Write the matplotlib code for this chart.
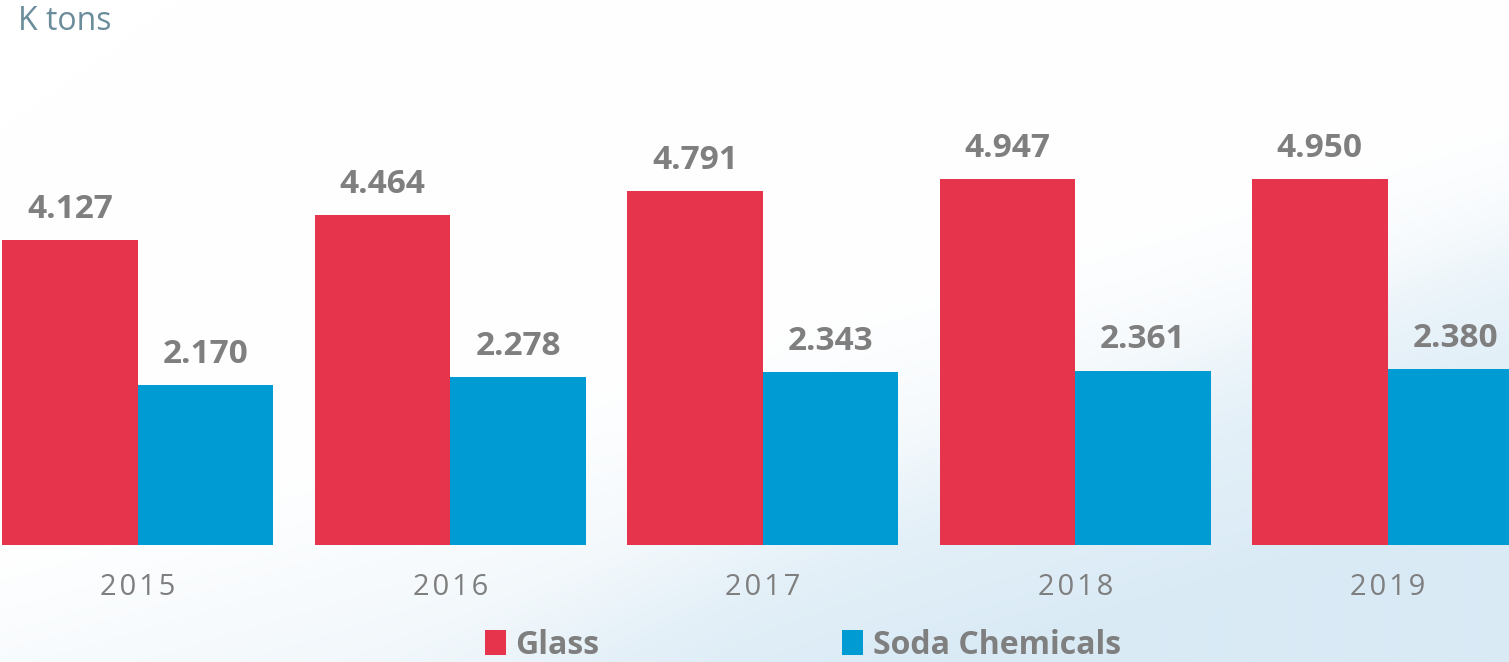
import numpy as np
import matplotlib
matplotlib.use("Agg")
import matplotlib.pyplot as plt
from matplotlib.patches import Patch

years = ["2015", "2016", "2017", "2018", "2019"]
glass = [4.127, 4.464, 4.791, 4.947, 4.950]
soda = [2.170, 2.278, 2.343, 2.361, 2.380]
glass_labels = ["4.127", "4.464", "4.791", "4.947", "4.950"]
soda_labels = ["2.170", "2.278", "2.343", "2.361", "2.380"]
series_names = ["Glass", "Soda Chemicals"]
unit_label = "K tons"

RED = "#E6344C"
BLUE = "#009BD2"
GRAY = "#7F7F7F"
FONT = ["Open Sans", "DejaVu Sans"]

W, H = 1509, 662
fig = plt.figure(figsize=(W / 100, H / 100), dpi=100)

# soft background gradient
bg = fig.add_axes([0, 0, 1, 1])
yy, xx = np.mgrid[0:1:331j, 0:1:755j]
t = np.clip((xx * 0.8 + yy * 1.2 - 1.0) / 0.8, 0, 1)
edge = 1.0 - 0.9 * (xx - 0.3)
curve = 1 / (1 + np.exp(-(yy - edge) / 0.04)) * (1 / (1 + np.exp(-(xx - 0.35) / 0.05)))
t = np.clip(t * 0.7 + 0.35 * curve, 0, 1)
c0 = np.array([1.0, 1.0, 1.0])
c1 = np.array([0xD9, 0xEA, 0xF5]) / 255
img = c0[None, None, :] * (1 - t[..., None]) + c1[None, None, :] * t[..., None]
bg.imshow(img, extent=[0, 1, 0, 1], aspect="auto", origin="upper")
bg.set_axis_off()

ax = fig.add_axes([0, 117 / H, 1, 545 / H])
ax.patch.set_alpha(0)
x = np.arange(len(years))
bw = 0.4337
ax.bar(x - bw / 2, glass, width=bw, color=RED, linewidth=0)
ax.bar(x + bw / 2, soda, width=bw, color=BLUE, linewidth=0)
ax.set_xlim(-0.4417, 4.3886)
ax.set_ylim(0, 545 / 73.9)

for xi, v, s in zip(x, glass, glass_labels):
    ax.annotate(s, (xi - bw / 2, v), xytext=(0, 22), textcoords="offset points",
                ha="center", va="center", fontsize=24, fontweight="bold",
                color=GRAY, family=FONT)
for xi, v, s in zip(x, soda, soda_labels):
    ax.annotate(s, (xi + bw / 2, v), xytext=(0, 22), textcoords="offset points",
                ha="center", va="center", fontsize=24, fontweight="bold",
                color=GRAY, family=FONT)

ax.set_xticks(x)
ax.set_xticklabels(["\u200a".join(y) for y in years], fontsize=21, color=GRAY, family=FONT)
ax.tick_params(axis="x", length=0, pad=20)
ax.set_yticks([])
for sp in ax.spines.values():
    sp.set_visible(False)

fig.text(18 / W, 1 - 22 / H, unit_label, fontsize=23, color="#6B8C9B",
         family=FONT, ha="left", va="center")

handles = [Patch(facecolor=RED, edgecolor="none"), Patch(facecolor=BLUE, edgecolor="none")]
leg = fig.legend(handles, series_names, loc="center", bbox_to_anchor=(803 / W, 17 / H),
                 ncol=2, frameon=False, handlelength=0.65, handleheight=0.85,
                 handletextpad=0.3, columnspacing=7.6, borderpad=0.2,
                 prop={"family": FONT, "weight": "bold", "size": 23})
for t_ in leg.get_texts():
    t_.set_color(GRAY)

fig.savefig("out.png", dpi=100)
